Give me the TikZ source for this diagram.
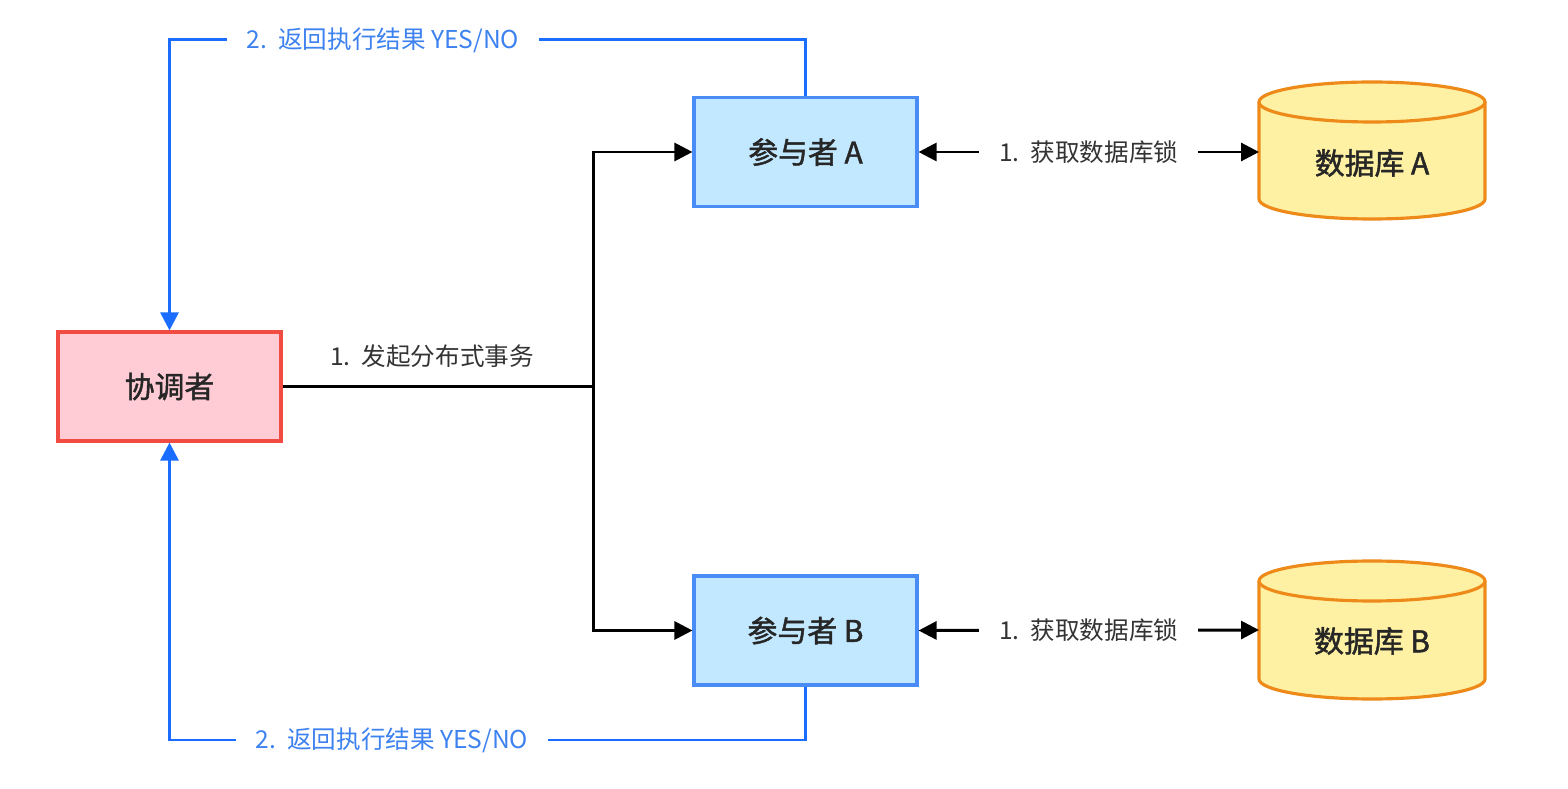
\documentclass[tikz,border=0pt]{standalone}
\usepackage{fontspec}
\setmainfont{Noto Sans CJK SC}
\newfontfamily\medfont[FakeBold=1.5]{Noto Sans CJK SC}
\usetikzlibrary{arrows.meta}

\definecolor{coordfill}{HTML}{FFCCD5}
\definecolor{coordline}{HTML}{F24B42}
\definecolor{partfill}{HTML}{C2E8FF}
\definecolor{partline}{HTML}{4A8CF5}
\definecolor{dbfill}{HTML}{FFF1A3}
\definecolor{dbline}{HTML}{EE8A1A}
\definecolor{backline}{HTML}{1A6DFF}
\definecolor{backtext}{HTML}{3D82F0}
\definecolor{labeltext}{HTML}{333333}

\begin{document}
\begin{tikzpicture}[x=0.02cm,y=0.02cm,
    box/.style={draw,line width=1.8pt,minimum width=4.46cm,minimum height=2.18cm,
        font=\fontsize{17}{20}\medfont,text=black!85},
    wire/.style={line width=1.7pt,-{Triangle[length=3.6mm,width=3.6mm]}},
    tag/.style={fill=white,inner xsep=0.4cm,font=\fontsize{14}{16}\selectfont}]
\useasboundingbox (0,0) rectangle (1568,788);
% Coordinator and participants
\node[box,fill=coordfill,draw=coordline] (coord) at (169.5,401.5){协调者};
\node[box,fill=partfill,draw=partline] (partA) at (805.5,636){参与者 A};
\node[box,fill=partfill,draw=partline] (partB) at (805.5,157.5){参与者 B};
% Databases
\foreach \n/\top/\bot/\lab in {A/686/589/625, B/207/109/147}{
  \draw[fill=dbfill,draw=dbline,line width=1.8pt]
    (1259,\top) -- (1259,\bot) arc (180:360:113 and 20) -- (1485,\top);
  \draw[fill=dbfill,draw=dbline,line width=1.8pt] (1372,\top) ellipse (113 and 20);
  \node[font=\fontsize{17}{20}\medfont,text=black!85] (db\n) at (1372,\lab){数据库 \n};
  \coordinate (db\n in) at (1259,\lab+11);
}
% Start transaction
\coordinate (split) at (593,401.5);
\draw[line width=1.7pt] (coord.east) -- (split);
\draw[wire] (split) |- (partA.west);
\draw[wire] (split) |- (partB.west);
\node[font=\fontsize{14}{16}\selectfont,text=labeltext] (start) at (432,432){1.\ \ 发起分布式事务};
% Locks
\draw[wire,{Triangle[length=3.6mm,width=3.6mm]}-{Triangle[length=3.6mm,width=3.6mm]}] (partA.east) -- (dbAin)
  node[tag,text=labeltext,pos=0.5] (lockA){1.\ \ 获取数据库锁};
\draw[wire,{Triangle[length=3.6mm,width=3.6mm]}-{Triangle[length=3.6mm,width=3.6mm]}] (partB.east) -- (dbBin)
  node[tag,text=labeltext,pos=0.5] (lockB){1.\ \ 获取数据库锁};
% Results back
\coordinate (upA) at (805.5,748);
\coordinate (upC) at (169.5,748);
\coordinate (downB) at (805.5,48);
\coordinate (downC) at (169.5,48);
\draw[wire,draw=backline,-{Triangle[length=3.6mm,width=3.6mm,fill=backline]}]
  (partA.north) -- (upA) -- (upC) -- (coord.north);
\draw[wire,draw=backline,-{Triangle[length=3.6mm,width=3.6mm,fill=backline]}]
  (partB.south) -- (downB) -- (downC) -- (coord.south);
\node[tag,text=backtext] (resA) at (383,748){2.\ \ 返回执行结果 YES/NO};
\node[tag,text=backtext] (resB) at (392,48){2.\ \ 返回执行结果 YES/NO};
\end{tikzpicture}
\end{document}
